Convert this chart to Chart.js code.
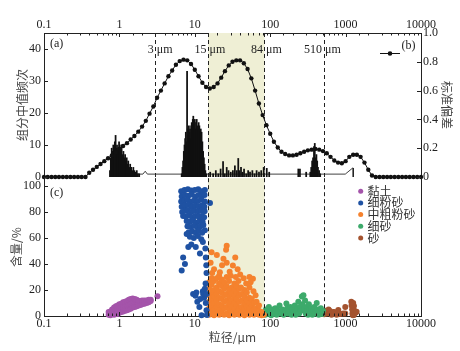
<!DOCTYPE html>
<html>
<head>
<meta charset="utf-8">
<script src="https://cdn.jsdelivr.net/npm/chart.js@4.4.0/dist/chart.umd.min.js"></script>
<style>
  html, body { margin: 0; padding: 0; background: #fff; }
  #wrap { position: relative; width: 460px; height: 351px; }
  #wrap canvas { position: absolute; left: 0; }
  #topChart { top: 0; }
  #bottomChart { top: 168px; }
</style>
</head>
<body>
<div id="wrap">
  <canvas id="topChart" width="460" height="190"></canvas>
  <canvas id="bottomChart" width="460" height="183"></canvas>
</div>
<script>
// ---- data ----
// grain size classes (um) used by the standard deviation curve
const sizeClasses = [0.1, 0.112, 0.126, 0.141, 0.158, 0.178, 0.2, 0.224, 0.251, 0.282,
  0.316, 0.355, 0.398, 0.447, 0.501, 0.562, 0.631, 0.708, 0.794, 0.891,
  1, 1.12, 1.26, 1.41, 1.58, 1.78, 2, 2.24, 2.51, 2.82,
  3.16, 3.55, 3.98, 4.47, 5.01, 5.62, 6.31, 7.08, 7.94, 8.91,
  10, 11.2, 12.6, 14.1, 15.8, 17.8, 20, 22.4, 25.1, 28.2,
  31.6, 35.5, 39.8, 44.7, 50.1, 56.2, 63.1, 70.8, 79.4, 89.1,
  100, 112, 126, 141, 158, 178, 200, 224, 251, 282,
  316, 355, 398, 447, 501, 562, 631, 708, 794, 891,
  1000, 1120, 1260, 1410, 1580, 1780, 2000, 2240, 2510, 2820,
  3160, 3550, 3980, 4470, 5010, 5620, 6310, 7080, 7940, 8910, 10000];
const stdDev = [0, 0, 0, 0, 0, 0, 0, 0, 0, 0,
  0, 0, 0.03, 0.05, 0.07, 0.09, 0.11, 0.13, 0.15, 0.17,
  0.195, 0.215, 0.235, 0.26, 0.285, 0.315, 0.35, 0.39, 0.44, 0.49,
  0.55, 0.6, 0.65, 0.7, 0.74, 0.78, 0.805, 0.815, 0.81, 0.785,
  0.745, 0.7, 0.655, 0.625, 0.615, 0.625, 0.65, 0.69, 0.735, 0.775,
  0.8, 0.81, 0.81, 0.79, 0.75, 0.685, 0.6, 0.51, 0.43, 0.36,
  0.3, 0.245, 0.205, 0.175, 0.16, 0.15, 0.15, 0.155, 0.165, 0.175,
  0.185, 0.19, 0.195, 0.19, 0.18, 0.165, 0.14, 0.115, 0.1, 0.095,
  0.11, 0.14, 0.155, 0.155, 0.14, 0.1, 0.05, 0.01, 0, 0,
  0, 0, 0, 0, 0, 0, 0, 0, 0, 0, 0];

// component median frequency (histogram)
const medianSizes = [0.75, 0.77, 0.79, 0.81, 0.83, 0.85, 0.87, 0.89, 0.91, 0.93,
  0.95, 0.97, 0.99, 1.01, 1.03, 1.05, 1.07, 1.1, 1.13, 1.16,
  1.19, 1.22, 1.25, 1.28, 1.31, 1.35, 1.39, 1.43, 1.48, 1.53,
  1.58, 1.64, 1.7, 1.76, 1.83,
  6.7, 6.85, 7.0, 7.15, 7.3, 7.45, 7.6, 7.75, 7.9, 8.05,
  8.2, 8.35, 8.5, 8.65, 8.8, 8.95, 9.1, 9.25, 9.4, 9.55,
  9.7, 9.85, 10.0, 10.2, 10.4, 10.6, 10.8, 11.0, 11.25, 11.5,
  11.75, 12.0, 12.3, 12.6, 12.9, 13.2, 13.5, 13.8, 14.2,
  16, 17.5, 19, 20.5, 22, 23.7, 25, 26.5, 28, 30,
  32, 34, 36, 37.7, 39, 41, 43, 45, 48, 51,
  54, 58, 62, 66, 71, 76, 82,
  90, 97, 236, 248, 300,
  340, 350, 360, 370, 381, 390, 400, 410, 420, 430, 445, 460];
const medianCounts = [2, 6, 9, 8, 10, 9, 11, 13, 9, 10,
  8, 9, 11, 10, 9, 8, 10, 7, 8, 6,
  7, 5, 6, 4, 5, 3, 4, 3, 2, 3,
  2, 1.5, 2, 1, 1,
  1, 3, 5, 8, 10, 12, 14, 11, 33, 15,
  13, 16, 14, 15, 12, 16, 17, 15, 18, 19,
  16, 17, 18, 15, 17, 18, 15, 16, 17, 16,
  14, 15, 14, 11, 8, 6, 4, 2, 1,
  1.5, 1, 2, 1, 2.5, 4.8, 1, 3, 2, 1.5,
  2, 3.5, 2, 5.8, 2, 3, 1.5, 2.5, 1, 2,
  1.5, 2, 1, 2, 1.5, 2, 3,
  2.7, 1.5, 2.5, 2.5, 1.5,
  1.5, 3, 5, 6, 9.5, 10.5, 6, 7, 5, 3, 2, 1];

// thin frequency baseline under the histogram
const baseSizes = [1.6, 2.05, 2.2, 2.35, 6.7, 990, 1240, 1260, 1262];
const baseCounts = [0.9, 0.9, 1.8, 0.9, 0.9, 0.9, 2.8, 2.8, 0];

// panel (c): content of each class vs grain size, [size um, content %]
const clayPts = [[0.72, 1], [0.72, 3], [0.76, 0.5], [0.76, 3.5], [0.8, 1.5], [0.8, 5], [0.85, 1], [0.85, 4.5],
  [0.85, 6.5], [0.9, 2], [0.9, 5], [0.9, 7.5], [0.95, 1.5], [0.95, 5], [0.95, 8], [1.0, 2.5], [1.0, 6], [1.0, 9],
  [1.06, 3], [1.06, 6.5], [1.06, 9.5], [1.12, 3.5], [1.12, 7], [1.12, 10.5], [1.19, 4], [1.19, 7.5], [1.19, 11],
  [1.26, 4.5], [1.26, 8], [1.26, 11.5], [1.33, 5], [1.33, 9], [1.33, 12.5], [1.41, 5.5], [1.41, 9.5], [1.41, 13],
  [1.5, 6.5], [1.5, 10], [1.5, 13.5], [1.6, 7], [1.6, 10.5], [1.6, 13], [1.7, 7.5], [1.7, 11], [1.7, 12.5],
  [1.8, 8], [1.8, 11.5], [1.9, 8.5], [1.9, 11.5], [2.0, 9], [2.0, 12], [2.15, 9.5], [2.15, 12], [2.3, 10],
  [2.3, 12], [2.45, 10.5], [2.45, 12.5], [2.6, 11.5], [2.6, 12.5], [3.2, 15.2]];
const fineSiltPts = [[6.6, 96], [7.3, 97], [8.1, 97.5], [9.0, 96.5], [10.0, 97], [11.1, 97.5], [12.3, 96], [13.6, 97],
  [6.7, 92], [7.4, 93], [8.2, 92.5], [9.1, 93.5], [10.1, 92], [11.2, 93], [12.4, 92.5], [13.5, 93],
  [6.6, 88], [7.3, 89], [8.0, 89.5], [8.9, 88], [9.9, 89], [11.0, 88.5], [12.2, 89.5], [13.6, 88],
  [6.7, 84], [7.4, 85], [8.2, 85.5], [9.1, 84], [10.1, 85], [11.2, 84.5], [12.4, 85], [13.4, 84],
  [6.8, 80], [7.5, 81], [8.1, 81.5], [9.0, 80], [10.0, 81], [11.1, 80.5], [12.3, 81], [13.5, 80.5],
  [7.0, 77], [7.6, 76.5], [8.3, 77.5], [9.2, 76], [10.2, 77], [11.3, 76.5], [12.5, 77], [13.3, 76],
  [7.8, 73], [8.6, 72.5], [9.5, 73.5], [10.5, 72], [11.6, 73], [12.7, 72.5],
  [8.0, 69], [8.9, 68.5], [9.8, 69.5], [10.8, 68], [11.9, 69], [13.0, 70],
  [8.3, 64.5], [9.3, 65], [10.3, 64], [11.4, 65.5], [12.5, 64], [13.6, 66],
  [8.6, 61], [9.7, 60], [11.0, 61.5], [12.2, 59],
  [7.8, 63], [8.2, 53], [7.0, 45], [6.7, 35], [7.4, 40], [9.0, 55], [10.3, 53], [11.7, 48], [12.8, 57],
  [13.8, 52], [14.0, 45], [14.2, 39], [14.3, 33], [15.9, 87], [9.5, 17], [10.2, 15.5], [10.8, 11], [11.5, 7],
  [12.3, 0.5], [12.8, 19], [13.3, 14], [13.6, 21], [14.0, 10], [14.3, 4.5], [14.5, 0.8], [12.9, 17], [11.8, 13],
  [13.9, 25], [14.4, 17], [10.5, 18]];
const coarseSiltPts = [[15.5, 1], [15.5, 6], [15.5, 11], [15.5, 16], [15.5, 21], [15.5, 26],
  [16.7, 3], [16.7, 8], [16.7, 13], [16.7, 18], [16.7, 24], [16.7, 29],
  [18, 0.5], [18, 5], [18, 10], [18, 15], [18, 20], [18, 27],
  [19.5, 2], [19.5, 7], [19.5, 12], [19.5, 17], [19.5, 22], [19.5, 29],
  [21, 1], [21, 5], [21, 9], [21, 14], [21, 19], [21, 25], [21, 31],
  [22.8, 3], [22.8, 8], [22.8, 13], [22.8, 18], [22.8, 23], [22.8, 28],
  [24.5, 1], [24.5, 6], [24.5, 11], [24.5, 16], [24.5, 21], [24.5, 26],
  [26.5, 2], [26.5, 7], [26.5, 12], [26.5, 17], [26.5, 23], [26.5, 30],
  [28.5, 0.5], [28.5, 5], [28.5, 10], [28.5, 15], [28.5, 20], [28.5, 27],
  [31, 2], [31, 7], [31, 12], [31, 17], [31, 22],
  [33.5, 1], [33.5, 5], [33.5, 10], [33.5, 15], [33.5, 20], [33.5, 25],
  [36, 3], [36, 8], [36, 13], [36, 18], [36, 23],
  [39, 1], [39, 6], [39, 11], [39, 16], [39, 21],
  [42, 2.5], [42, 7], [42, 12], [42, 17],
  [45.5, 0.5], [45.5, 5], [45.5, 10], [45.5, 15], [45.5, 20],
  [49, 2], [49, 7], [49, 12], [49, 18],
  [53, 1], [53, 5], [53, 10], [53, 14], [53, 22],
  [57, 3], [57, 8], [57, 13], [61, 1], [61, 5], [61, 10], [66, 2], [66, 6], [66, 11],
  [71, 1], [71, 4], [71, 8], [77, 0.5], [77, 3], [82, 1],
  [16.7, 49], [19.6, 47], [16.2, 41], [26.5, 54], [26, 51], [34.4, 45], [26.5, 41], [32, 38.8], [37, 36],
  [21.5, 33.7], [53, 30], [59, 28.6], [40, 32], [44.5, 29], [18, 36], [23, 39], [29, 34], [48, 25], [24, 44],
  [30, 31], [60, 19], [64, 16], [55, 26], [38, 27], [41, 22], [17, 33], [35, 30]];
const fineSandPts = [[86, 1], [88, 5], [92, 2], [96, 7], [99, 3], [103, 0.5], [107, 5], [112, 2], [117, 6], [122, 1],
  [127, 4], [133, 8], [139, 2], [145, 5], [151, 1], [157, 3.5], [164, 9.6], [168, 6], [172, 2], [178, 4],
  [185, 7], [192, 1], [198, 5], [205, 3], [212, 8], [218, 1], [224, 4], [230, 6], [236, 11], [242, 2],
  [248, 7], [255, 4], [263, 15], [268, 9], [276, 16], [282, 5], [290, 12], [296, 2], [303, 7], [310, 4],
  [318, 1], [326, 9], [334, 5], [342, 2], [352, 6], [362, 1], [372, 4], [384, 7], [396, 2], [414, 10],
  [426, 5], [440, 1], [455, 3.5], [470, 6], [488, 1.5], [500, 4]];
const sandPts = [[520, 1.3], [540, 4], [565, 2], [595, 5], [620, 3.8], [650, 1], [690, 3], [720, 2.8], [760, 1],
  [800, 4.6], [850, 1.5], [930, 2], [990, 7], [990, 2], [1190, 11], [1200, 8], [1220, 5], [1230, 2], [1250, 0.5],
  [1290, 7.6], [1310, 4], [1290, 0.8], [1350, 2.5], [1400, 3.3], [1260, 10]];

const classNames = ['黏土', '细粉砂', '中粗粉砂', '细砂', '砂'];
const classColors = ['#A454AA', '#1F52A3', '#F5822E', '#3DAA6B', '#A4532F'];

const guideSizes = [3, 15, 84, 510];
const shadeRange = [15, 84];

// ---- styling ----
const serif = "'Liberation Serif', 'Times New Roman', serif";
const cjk = "'Noto Sans CJK SC', sans-serif";
const ink = '#222';
const shadeColor = 'rgb(239, 239, 213)';

function isDecade(v) {
  const l = Math.log10(v);
  return Math.abs(l - Math.round(l)) < 1e-6;
}

function logAxis(position, labelPad, boxHeight, title) {
  return {
    type: 'logarithmic', position: position, min: 0.1, max: 10000, offset: false,
    grid: { display: false, drawTicks: false },
    border: { display: true, color: ink, width: 1 },
    ticks: {
      autoSkip: false, maxRotation: 0, padding: labelPad, color: ink,
      font: { family: serif, size: 12 },
      callback: (v) => isDecade(v) ? (v < 1 ? '0.1' : String(Math.round(v))) : ''
    },
    title: title || { display: false },
    afterFit: (s) => { s.height = boxHeight; }
  };
}

function valueAxis(position, min, max, step, width, labelPad, title, fmt, showTicks) {
  return {
    type: 'linear', position: position, min: min, max: max,
    grid: { display: false, drawTicks: false },
    border: { display: true, color: ink, width: 1 },
    ticks: {
      display: showTicks !== false, stepSize: step, includeBounds: false, padding: labelPad, color: ink,
      font: { family: serif, size: 12 },
      callback: fmt || ((v) => String(v))
    },
    title: title || { display: false },
    afterFit: (s) => { s.width = width; }
  };
}

const panelDecor = {
  id: 'panelDecor',
  beforeDatasetsDraw(chart) {
    const { ctx, chartArea: a } = chart;
    const x = chart.scales.x;
    const l = x.getPixelForValue(shadeRange[0]);
    const r = x.getPixelForValue(shadeRange[1]);
    ctx.save();
    ctx.fillStyle = shadeColor;
    ctx.fillRect(l, a.top, r - l, a.bottom - a.top);
    ctx.restore();
  },
  afterDatasetsDraw(chart, args, opts) {
    const { ctx, chartArea: a } = chart;
    const x = chart.scales.x;
    ctx.save();
    ctx.strokeStyle = ink;
    ctx.lineWidth = 1;
    ctx.setLineDash([4, 3]);
    guideSizes.forEach((v) => {
      const px = Math.round(x.getPixelForValue(v)) + 0.5;
      ctx.beginPath();
      ctx.moveTo(px, a.top);
      ctx.lineTo(px, a.bottom);
      ctx.stroke();
    });
    ctx.setLineDash([]);

    // inward tick marks
    ctx.beginPath();
    const y0 = opts.panel === 'top' ? a.top : a.bottom;
    const dir = opts.panel === 'top' ? 1 : -1;
    x.ticks.forEach((t) => {
      const px = Math.round(x.getPixelForValue(t.value)) + 0.5;
      const len = isDecade(t.value) ? 4 : 2.5;
      ctx.moveTo(px, y0);
      ctx.lineTo(px, y0 + dir * len);
    });
    ['y', 'yR'].forEach((id) => {
      const s = chart.scales[id];
      if (!s || !s.options.ticks.display) return;
      const x0 = s.position === 'left' ? a.left : a.right;
      const d = s.position === 'left' ? 1 : -1;
      s.ticks.forEach((t) => {
        const py = Math.round(s.getPixelForValue(t.value)) + 0.5;
        ctx.moveTo(x0, py);
        ctx.lineTo(x0 + d * 4, py);
      });
    });
    ctx.stroke();
    ctx.restore();
  },
  afterDraw(chart, args, opts) {
    const { ctx, chartArea: a } = chart;
    const x = chart.scales.x;
    ctx.save();
    ctx.fillStyle = ink;
    ctx.textBaseline = 'middle';
    ctx.font = '12px ' + serif;
    if (opts.panel === 'top') {
      guideSizes.forEach((v) => {
        const px = x.getPixelForValue(v);
        ctx.textAlign = 'right';
        ctx.fillText(String(v), px - 1.5, a.top + 17);
        ctx.textAlign = 'left';
        ctx.fillText('μm', px + 1.5, a.top + 17);
      });
      ctx.textAlign = 'left';
      ctx.fillText('(a)', a.left + 6, a.top + 10.5);
      ctx.fillText('(b)', a.right - 19.5, a.top + 13);
      ctx.strokeStyle = '#111';
      ctx.lineWidth = 1;
      ctx.beginPath();
      ctx.moveTo(a.right - 41, a.top + 20.5);
      ctx.lineTo(a.right - 21, a.top + 20.5);
      ctx.stroke();
      ctx.fillStyle = '#111';
      ctx.beginPath();
      ctx.arc(a.right - 31, a.top + 20.5, 2.3, 0, Math.PI * 2);
      ctx.fill();
    } else {
      ctx.textAlign = 'left';
      ctx.fillText('(c)', a.left + 6, a.top + 14.7);
      ctx.font = '12px ' + cjk;
      classNames.forEach((name, i) => {
        const py = a.top + 13 + i * 11.7;
        ctx.fillStyle = classColors[i];
        ctx.beginPath();
        ctx.arc(a.right - 60.3, py, 2.5, 0, Math.PI * 2);
        ctx.fill();
        ctx.fillStyle = '#333';
        ctx.fillText(name, a.right - 53.5, py);
      });
    }
    ctx.restore();
  }
};

const xy = (xs, ys) => xs.map((v, i) => ({ x: v, y: ys[i] }));
const pts = (arr) => arr.map((p) => ({ x: p[0], y: p[1] }));

// ---- top panel: (a) median frequency + (b) standard deviation ----
new Chart(document.getElementById('topChart'), {
  type: 'line',
  data: {
    datasets: [
      {
        type: 'line', label: '标准偏差', data: xy(sizeClasses, stdDev), yAxisID: 'yR',
        borderColor: '#111', borderWidth: 1, pointRadius: 2.2, pointBackgroundColor: '#111',
        pointBorderWidth: 0, tension: 0, clip: false
      },
      {
        type: 'line', label: 'baseline', data: xy(baseSizes, baseCounts), yAxisID: 'y',
        borderColor: '#111', borderWidth: 0.8, pointRadius: 0, tension: 0
      },
      {
        type: 'bar', label: '组分中值频次', data: xy(medianSizes, medianCounts), yAxisID: 'y',
        backgroundColor: '#111', barThickness: 1.1, grouped: false
      }
    ]
  },
  options: {
    responsive: false, animation: false, events: [],
    layout: { padding: { left: 0, right: 0, top: 0, bottom: 13 } },
    scales: {
      x: logAxis('top', 1, 33),
      y: valueAxis('left', 0, 45, 10, 44, 3,
        { display: true, text: '组分中值频次', color: '#444', font: { family: cjk, size: 12 }, padding: { top: 15 } }),
      yR: valueAxis('right', 0, 1, 0.2, 39, 2,
        { display: true, text: '标准偏差', color: '#444', font: { family: cjk, size: 12 }, padding: { top: 6 } },
        (v) => v === 0 ? '0' : v.toFixed(1))
    },
    plugins: { legend: { display: false }, tooltip: { enabled: false }, panelDecor: { panel: 'top' } }
  },
  plugins: [panelDecor]
});

// ---- bottom panel: (c) content of each size class ----
new Chart(document.getElementById('bottomChart'), {
  type: 'scatter',
  data: {
    datasets: [clayPts, fineSiltPts, coarseSiltPts, fineSandPts, sandPts].map((arr, i) => ({
      label: classNames[i], data: pts(arr), yAxisID: 'y',
      backgroundColor: classColors[i], borderColor: classColors[i], borderWidth: 0,
      pointRadius: 3, clip: false
    }))
  },
  options: {
    responsive: false, animation: false, events: [],
    layout: { padding: { left: 0, right: 0, top: 9, bottom: 0 } },
    scales: {
      x: logAxis('bottom', 1, 35,
        { display: true, text: '粒径/μm', color: '#444', font: { family: cjk, size: 12 }, padding: { bottom: 6 } }),
      y: valueAxis('left', 0, 106, 20, 44, 3,
        { display: true, text: '含量/%', color: '#444', font: { family: cjk, size: 12 }, padding: { top: 9 } }),
      yR: valueAxis('right', 0, 106, 20, 39, 2, null, null, false)
    },
    plugins: { legend: { display: false }, tooltip: { enabled: false }, panelDecor: { panel: 'bottom' } }
  },
  plugins: [panelDecor]
});
</script>
</body>
</html>
